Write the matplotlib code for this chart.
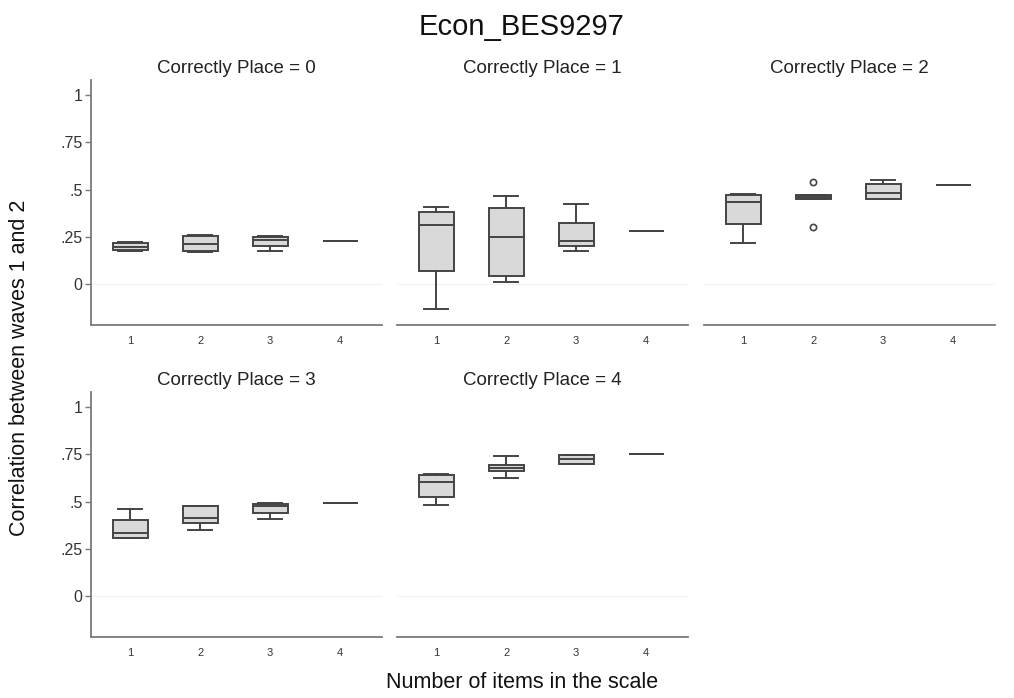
import matplotlib
matplotlib.use('Agg')
import matplotlib.pyplot as plt

plt.rcParams['font.family'] = ['Liberation Sans', 'DejaVu Sans']

# number of items in the scale
items = [1, 2, 3, 4]
places = [0, 1, 2, 3, 4]

# per panel (correctly place = 0..4), per item count: whislo, q1, med, q3, whishi
whislo = [[0.175, 0.172, 0.175, 0.227],
          [-0.131, 0.009, 0.176, 0.280],
          [0.217, 0.448, 0.448, 0.522],
          [0.305, 0.349, 0.410, 0.493],
          [0.481, 0.626, 0.700, 0.753]]
q1 = [[0.178, 0.176, 0.199, 0.227],
      [0.067, 0.042, 0.203, 0.280],
      [0.316, 0.448, 0.448, 0.522],
      [0.305, 0.386, 0.440, 0.493],
      [0.524, 0.664, 0.701, 0.753]]
med = [[0.195, 0.212, 0.231, 0.227],
       [0.314, 0.250, 0.228, 0.280],
       [0.432, 0.458, 0.483, 0.522],
       [0.331, 0.414, 0.475, 0.493],
       [0.601, 0.677, 0.725, 0.753]]
q3 = [[0.215, 0.256, 0.249, 0.227],
      [0.381, 0.400, 0.325, 0.280],
      [0.469, 0.469, 0.531, 0.522],
      [0.404, 0.475, 0.488, 0.493],
      [0.642, 0.693, 0.746, 0.753]]
whishi = [[0.225, 0.258, 0.252, 0.227],
          [0.406, 0.466, 0.422, 0.280],
          [0.478, 0.469, 0.552, 0.522],
          [0.463, 0.477, 0.490, 0.493],
          [0.645, 0.739, 0.748, 0.753]]
# outside values (panel, item) -> list
outliers = {(2, 2): [0.540, 0.300]}

yticks = [0, 0.25, 0.5, 0.75, 1]
ytick_labels = ['0', '.25', '.5', '.75', '1']

W, H = 1014, 698
fig = plt.figure(figsize=(W / 100, H / 100), dpi=100)

lefts = [91, 397, 704]
rows = [(80, 325), (392, 637)]
edge = '#444444'

for p in places:
    r, c = divmod(p, 3)
    top, bot = rows[r]
    ax = fig.add_axes([lefts[c] / W, 1 - bot / H, 291 / W, (bot - top) / H])
    stats = []
    for i in range(len(items)):
        stats.append(dict(whislo=whislo[p][i], q1=q1[p][i], med=med[p][i],
                          q3=q3[p][i], whishi=whishi[p][i],
                          fliers=outliers.get((p, items[i]), [])))
    ax.bxp(stats, positions=items, widths=0.5, patch_artist=True, capwidths=0.34,
           boxprops=dict(facecolor='#d9d9d9', edgecolor=edge, linewidth=1.4),
           medianprops=dict(color=edge, linewidth=1.4),
           whiskerprops=dict(color=edge, linewidth=1.4),
           capprops=dict(color=edge, linewidth=1.4),
           flierprops=dict(marker='o', markersize=4.5, markerfacecolor='none',
                           markeredgecolor=edge, markeredgewidth=1.2))
    ax.axhline(0, color='#f2f2f2', linewidth=0.8, zorder=0)
    ax.set_xlim(0.44, 4.6)
    ax.set_ylim(-0.217, 1.08)
    ax.set_xticks(items)
    ax.set_xticklabels([str(i) for i in items], fontsize=8, color='#333333')
    ax.tick_params(axis='x', length=0, pad=8)
    for s in ['top', 'right']:
        ax.spines[s].set_visible(False)
    ax.spines['bottom'].set_color('#7a7a7a')
    ax.spines['bottom'].set_linewidth(1.3)
    if c == 0:
        ax.set_yticks(yticks)
        ax.set_yticklabels(ytick_labels, fontsize=11.5, color='#333333')
        ax.tick_params(axis='y', length=4, color='#7a7a7a', width=1, pad=2)
        ax.spines['left'].set_color('#7a7a7a')
        ax.spines['left'].set_linewidth(1.3)
    else:
        ax.spines['left'].set_visible(False)
        ax.set_yticks([])
    ax.set_title(f'Correctly Place = {p}', fontsize=13.5, color='#222222', pad=5)

fig.text(522 / W, 1 - 27 / H, 'Econ_BES9297', ha='center', va='center', fontsize=21, color='#111111')
fig.text(20 / W, 1 - 368 / H, 'Correlation between waves 1 and 2', rotation=90,
         ha='center', va='center', fontsize=15.5, color='#111111')
fig.text(522 / W, 1 - 682 / H, 'Number of items in the scale', ha='center', va='center',
         fontsize=15.5, color='#111111')

fig.savefig('out.png', dpi=100, facecolor='white')
